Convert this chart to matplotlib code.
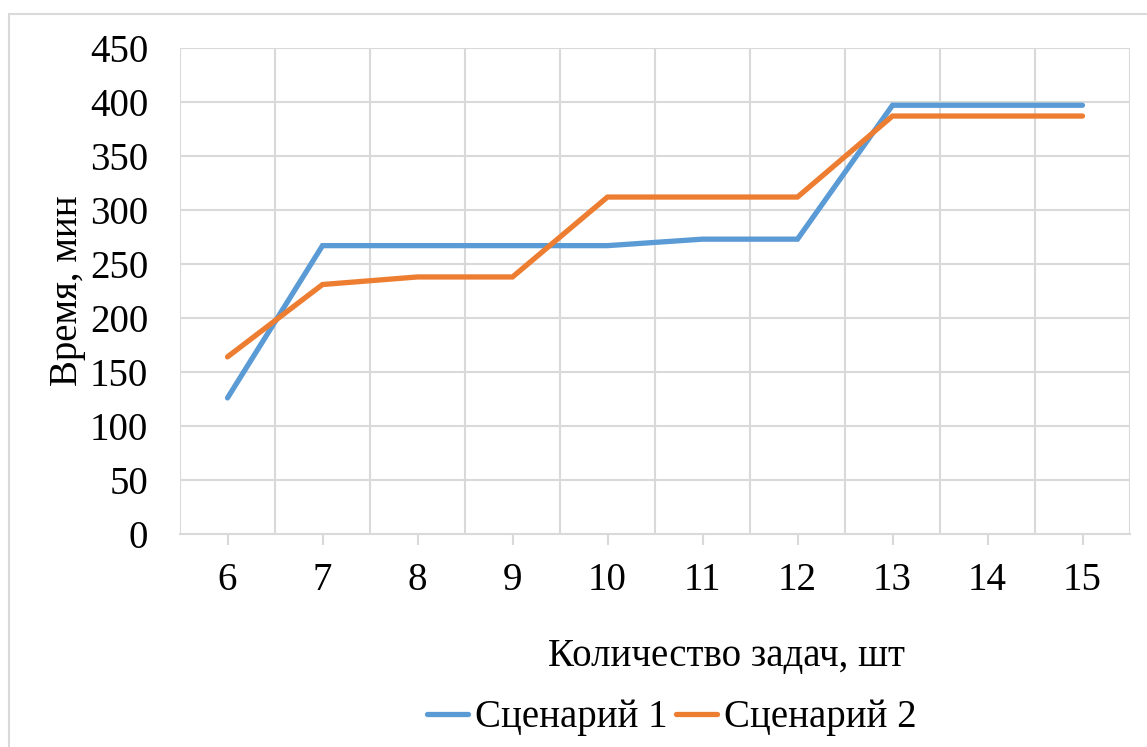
import matplotlib.pyplot as plt
from matplotlib.patches import Rectangle

plt.rcParams['font.family'] = ['Liberation Serif', 'DejaVu Serif']

# данные
tasks = [6, 7, 8, 9, 10, 11, 12, 13, 14, 15]
scenario1 = [126, 267, 267, 267, 267, 273, 273, 397, 397, 397]
scenario2 = [164, 231, 238, 238, 312, 312, 312, 387, 387, 387]
series_names = ['Сценарий 1', 'Сценарий 2']
colors = ['#5B9BD5', '#ED7D31']

FS = 28
W, H = 1147, 747
fig = plt.figure(figsize=(W / 100, H / 100), dpi=100)
ax = fig.add_axes([180 / W, 1 - 534 / H, (1130 - 180) / W, (534 - 48) / H])

# рамка области диаграммы
fig.patches.append(Rectangle((8.5 / W, -0.1), 1.2, 1 - 14 / H + 0.1,
                             transform=fig.transFigure, fill=False,
                             edgecolor='#D9D9D9', linewidth=1.5))

pos = list(range(len(tasks)))
for vals, name, c in zip([scenario1, scenario2], series_names, colors):
    ax.plot(pos, vals, color=c, linewidth=3.8, solid_capstyle='round',
            solid_joinstyle='miter', label=name, zorder=3)

ax.set_xlim(-0.5, len(tasks) - 0.5)
ax.set_ylim(0, 450)
ax.set_yticks(range(0, 451, 50))
ax.set_xticks(pos)
ax.set_xticklabels([str(t) for t in tasks])

# сетка
for y in range(50, 451, 50):
    ax.axhline(y, color='#D9D9D9', linewidth=1.5, zorder=1)
for i in range(len(tasks) + 1):
    ax.axvline(i - 0.5, color='#D9D9D9', linewidth=1.5, zorder=1)

for s in ['top', 'right', 'left']:
    ax.spines[s].set_visible(False)
ax.spines['bottom'].set_color('#D9D9D9')
ax.spines['bottom'].set_linewidth(1.5)

ax.tick_params(axis='y', length=0, pad=23, labelsize=FS)
ax.tick_params(axis='x', length=8, width=1.5, color='#D9D9D9', pad=12,
               labelsize=FS)

ax.set_ylabel('Время, мин', fontsize=FS)
ax.yaxis.set_label_coords(-(180 - 86) / (1130 - 180), 0.5)

fig.text(726 / W, 1 - 657 / H, 'Количество задач, шт', fontsize=FS,
         ha='center', va='center')

fig.legend(loc='center', bbox_to_anchor=(672 / W, 1 - 718 / H), ncol=2,
           frameon=False, fontsize=FS, handlelength=1.05, handletextpad=0.2,
           columnspacing=0.2, borderaxespad=0)

fig.savefig('out.png', dpi=100)
